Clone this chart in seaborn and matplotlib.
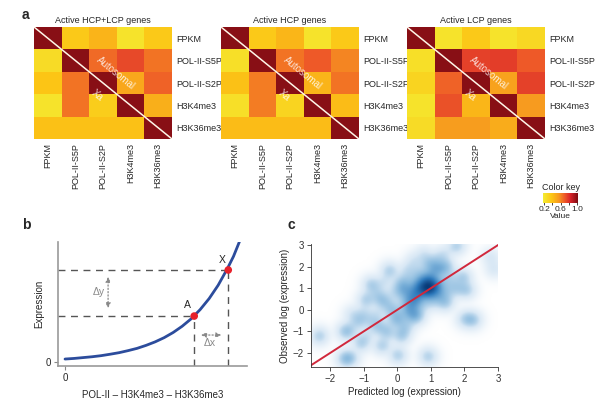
import numpy as np
import pandas as pd
import matplotlib
matplotlib.use("Agg")
import matplotlib.pyplot as plt
import seaborn as sns
from matplotlib.colors import LinearSegmentedColormap

# ---- data -------------------------------------------------------------
marks = ["FPKM", "POL-II-S5P", "POL-II-S2P", "H3K4me3", "H3K36me3"]
titles = ["Active HCP+LCP genes", "Active HCP genes", "Active LCP genes"]

# upper triangle = autosomal, lower triangle = Xa
corr_all = [[1.00, 0.36, 0.45, 0.22, 0.36],
            [0.26, 1.00, 0.66, 0.74, 0.64],
            [0.38, 0.64, 1.00, 0.50, 0.68],
            [0.22, 0.64, 0.34, 1.00, 0.47],
            [0.40, 0.40, 0.40, 0.40, 1.00]]
corr_hcp = [[1.00, 0.36, 0.44, 0.22, 0.36],
            [0.24, 1.00, 0.64, 0.70, 0.60],
            [0.40, 0.62, 1.00, 0.45, 0.64],
            [0.24, 0.62, 0.30, 1.00, 0.42],
            [0.42, 0.42, 0.42, 0.42, 1.00]]
corr_lcp = [[1.00, 0.22, 0.36, 0.22, 0.28],
            [0.24, 1.00, 0.76, 0.77, 0.70],
            [0.30, 0.68, 1.00, 0.52, 0.76],
            [0.22, 0.72, 0.44, 1.00, 0.55],
            [0.26, 0.54, 0.54, 0.48, 1.00]]
cbar_ticks = [0.2, 0.4, 0.6, 0.8, 1.0]
cbar_labels = ["0.2", "", "0.6", "", "1.0"]

# panel b: schematic curve
curve_x = [0, 0.5, 1, 1.5, 2, 2.5, 3, 3.5, 4, 4.5, 5, 5.5, 6, 6.5, 7, 7.5, 8, 8.5, 9, 9.35, 9.7]
curve_y = [0.25, 0.30, 0.37, 0.44, 0.53, 0.65, 0.78, 0.95, 1.14, 1.39, 1.68, 2.03, 2.46, 2.98,
           3.60, 4.37, 5.29, 6.40, 7.75, 8.80, 10.1]
pt_x = [7.17, 9.06]
pt_y = [3.83, 7.67]
pt_names = ["A", "X"]

# panel c: predicted vs observed log expression
pred = [-2.35, -2.3, -1.6, -1.5, -1.45, -1.5, -1.35, -1.1, -1.05, -1.35, -1.0, -0.95, -0.9,
        -0.8, -0.75, -0.5, -0.45, -0.5, -0.4, -0.6, -0.55, -0.25, -0.2, -0.2, -0.1, 0.0, 0.05,
        0.1, 0.15, 0.0, 0.05, 0.1, 0.15, 0.2, 0.3, 0.5, 0.45, 0.55, 0.5, 0.45, 0.6, 0.9, 0.95,
        0.7, 0.8, 0.9, 1.0, 1.0, 1.1, 0.85, 0.95, 1.2, 1.1, 0.75, 0.6, 1.3, 0.9, 0.7, 1.0, 1.2,
        0.5, 0.8, 1.1, 1.4, 0.95, 0.85, 1.05, 1.1, 1.0, 1.5, 1.45, 1.8, 1.75, 2.0, 1.95, 2.0,
        2.1, 2.3, 2.25, 2.1, 2.05, 2.8, 2.9, 1.4, 1.5, 0.3, 0.25, -1.6, -0.3, 0.35, 1.25,
        0.3, 0.6, 0.9, 1.2, 0.5, 1.3, 1.6, 1.7, 0.2, 0.4, -0.1, -0.3, -0.6, -0.8, -1.2, -0.9,
        -0.3, 0.2, 0.7, 1.0, 1.3, 1.5, 0.6, 1.0, 0.3, -0.6, -0.4, 0.8, 1.4, 1.8, 0.15, 0.4,
        0.6, -1.1, -1.5, -0.1, 0.8, 1.0, 0.65, 0.5]
obs = [-1.25, -1.2, -1.0, -1.05, -0.95, -2.3, -2.25, -1.5, -1.6, -0.2, -0.15, 0.45, 0.5,
       1.2, 1.15, 0.45, 0.5, -1.7, -1.65, -0.75, -0.8, 1.85, 1.8, 0.0, 0.05, -2.15, -2.1,
       -1.2, -1.25, -0.45, -0.4, 1.2, 1.25, 0.9, -0.75, 0.45, 0.5, 0.4, -0.3, -0.25, -0.2, -2.15, -2.2,
       1.0, 0.9, 1.0, 1.1, 0.9, 1.0, 1.2, 0.8, 1.1, 1.3, 1.3, 0.8, 0.9, 1.4, 0.6, 0.6, 0.7,
       1.1, 1.6, 1.7, 1.3, 1.05, 0.95, 1.15, 2.0, 2.1, 2.0, 2.05, 3.0, 2.95, 1.5, 1.55, -0.45,
       -0.4, -0.45, -0.5, 0.9, 0.95, 2.45, 1.9, 0.3, 0.35, 0.3, -0.1, -2.3, -1.05, 0.05, 1.9,
       1.5, 1.8, 2.2, 2.4, 2.3, 1.9, 1.5, 1.1, 0.6, 0.9, 0.8, 0.3, -0.2, -0.5, -0.6, -1.2,
       -1.0, -0.9, 0.2, 0.3, 0.5, 0.8, 1.4, 1.5, 1.9, 0.8, 1.3, 2.6, 2.6, 0.94, 0.94, 0.16,
       -0.31, -0.46, -2.23, -0.46, 1.09, 1.25, 1.0, 0.7]
diag_line = [-2.7, 3.2]

# ---- style ------------------------------------------------------------
sns.set_theme(style="white")
plt.rcParams["font.family"] = ["Liberation Sans", "DejaVu Sans"]
heat_cmap = LinearSegmentedColormap.from_list(
    "heat", [(0.0, "#f4ec32"), (0.25, "#fcc515"), (0.45, "#f79a1f"),
             (0.62, "#ee5a28"), (0.78, "#d9242a"), (1.0, "#7e0c12")])
blue_cmap = LinearSegmentedColormap.from_list(
    "bl", [(0.0, "#ffffff"), (0.3, "#d9e8f5"), (0.55, "#86b8dd"), (0.78, "#2f7bbd"), (1.0, "#083a78")])

W, H = 600, 403
fig = plt.figure(figsize=(6, 4.03), dpi=100)


def box(x0, y0, x1, y1):
    return [x0 / W, 1 - y1 / H, (x1 - x0) / W, (y1 - y0) / H]


# ---- panel a: heatmaps -----------------------------------------------
heat_lefts = [34, 221, 407]
cax = fig.add_axes(box(543, 193, 578, 203))
for i, (mat, title, left) in enumerate(zip([corr_all, corr_hcp, corr_lcp], titles, heat_lefts)):
    ax = fig.add_axes(box(left, 27, left + 138, 139))
    df = pd.DataFrame(mat, index=marks, columns=marks)
    sns.heatmap(df, ax=ax, cmap=heat_cmap, vmin=0.17, vmax=1.02, square=False,
                cbar=(i == 0), cbar_ax=cax if i == 0 else None,
                cbar_kws={"orientation": "horizontal", "ticks": cbar_ticks} if i == 0 else None)
    ax.yaxis.tick_right()
    ax.set_yticklabels(marks, rotation=0, fontsize=6.5)
    ax.set_xticklabels(marks, rotation=90, fontsize=6.5)
    ax.tick_params(length=0, pad=3)
    ax.set_xlabel("")
    ax.set_ylabel("")
    ax.set_title(title, fontsize=6.5, pad=3)
    ax.plot([0, 5], [0, 5], color="#fff6e8", lw=1.1)
    ax.text(2.95, 2.05, "Autosomal", rotation=-39, ha="center", va="center",
            fontsize=7, color="white", alpha=0.8)
    ax.text(2.3, 3.05, "Xa", rotation=-39, ha="center", va="center",
            fontsize=7, color="white", alpha=0.8)

cax.set_xticks(cbar_ticks)
cax.set_xticklabels(cbar_labels, fontsize=6)
cax.tick_params(axis="x", length=2.5, width=0.6, direction="inout", pad=1, bottom=True)
cax.set_title("Color key", fontsize=6.5, pad=2)
cax.set_xlabel("Value", fontsize=6, labelpad=0)
for s in cax.spines.values():
    s.set_visible(False)

fig.text(22 / W, 1 - 15 / H, "a", fontsize=10, fontweight="bold", va="center")
fig.text(22 / W, 1 - 225 / H, "b", fontsize=10, fontweight="bold", va="center")
fig.text(288 / W, 1 - 225 / H, "c", fontsize=10, fontweight="bold", va="center")

# ---- panel b: schematic ------------------------------------------------
axb = fig.add_axes(box(58, 242, 247, 366))
x0b, y0b = -0.39, -0.33
sns.lineplot(x=curve_x, y=curve_y, ax=axb, color="#2c4c9c", lw=2, sort=False)
for px, py in zip(pt_x, pt_y):
    axb.plot([x0b, px], [py, py], ls=(0, (5, 4)), color="#555555", lw=1)
    axb.plot([px, px], [y0b, py], ls=(0, (5, 4)), color="#555555", lw=1)
sns.scatterplot(x=pt_x, y=pt_y, ax=axb, color="#e8212b", s=30, edgecolor="none", zorder=5)
axb.text(pt_x[0] - 0.4, pt_y[0] + 0.95, pt_names[0], fontsize=7.5, ha="center", va="center")
axb.text(pt_x[1] - 0.35, pt_y[1] + 0.85, pt_names[1], fontsize=7.5, ha="center", va="center")
axb.annotate("", xy=(2.39, pt_y[0] + 0.42), xytext=(2.39, pt_y[1] - 0.34),
             arrowprops=dict(arrowstyle="<|-|>,head_length=0.25,head_width=0.12",
                             ls=":", color="#888888", lw=0.9))
axb.text(1.85, 5.85, "Δy", fontsize=7.5, color="#8a8a8a", ha="center", va="center")
axb.annotate("", xy=(pt_x[0] + 0.22, 2.25), xytext=(pt_x[1] - 0.23, 2.25),
             arrowprops=dict(arrowstyle="<|-|>,head_length=0.25,head_width=0.12",
                             ls=":", color="#888888", lw=0.9))
axb.text(8.05, 1.55, "Δx", fontsize=7.5, color="#8a8a8a", ha="center", va="center")
axb.set_xlim(x0b, 10.1)
axb.set_ylim(y0b, 10.0)
axb.set_xticks([0])
axb.set_yticks([0])
axb.tick_params(labelsize=7, length=3, width=0.8, color="#888888", pad=2, left=True, bottom=True)
axb.set_xlabel("POL-II – H3K4me3 – H3K36me3", fontsize=7, labelpad=5)
axb.set_ylabel("Expression", fontsize=7, labelpad=1)
sns.despine(ax=axb)
for s in ["left", "bottom"]:
    axb.spines[s].set_color("#999999")
    axb.spines[s].set_linewidth(1.2)

# ---- panel c: smoothed scatter ------------------------------------------
axc = fig.add_axes(box(311, 244, 498, 367))
xlim_c, ylim_c = (-2.57, 3.0), (-2.65, 3.05)
# smoothScatter-style density: gaussian kernel roughly round in pixels, root transform
gx = np.linspace(*xlim_c, 240)
gy = np.linspace(*ylim_c, 160)
GX, GY = np.meshgrid(gx, gy)
dens = np.zeros_like(GX)
for px, py in zip(pred, obs):
    dens += np.exp(-0.5 * (((GX - px) / 0.17) ** 2 + ((GY - py) / 0.26) ** 2))
dens = (dens / dens.max()) ** 0.5
axc.imshow(dens, origin="lower", extent=(*xlim_c, *ylim_c), aspect="auto",
           cmap=blue_cmap, vmin=0, vmax=1, interpolation="bilinear")
sns.lineplot(x=diag_line, y=diag_line, ax=axc, color="#d1283c", lw=1.4)
axc.set_xlim(*xlim_c)
axc.set_ylim(*ylim_c)
axc.set_xticks([-2, -1, 0, 1, 2, 3])
axc.set_yticks([-2, -1, 0, 1, 2, 3])
axc.tick_params(labelsize=7, length=3, width=0.6, color="#333333", pad=2, left=True, bottom=True,
                labelcolor="#333333")
axc.set_xlabel("Predicted log (expression)", fontsize=7, labelpad=2)
axc.set_ylabel("Observed log (expression)", fontsize=7, labelpad=2)
sns.despine(ax=axc)
for s in ["left", "bottom"]:
    axc.spines[s].set_color("#333333")
    axc.spines[s].set_linewidth(0.6)

fig.savefig("out.png", dpi=100)
